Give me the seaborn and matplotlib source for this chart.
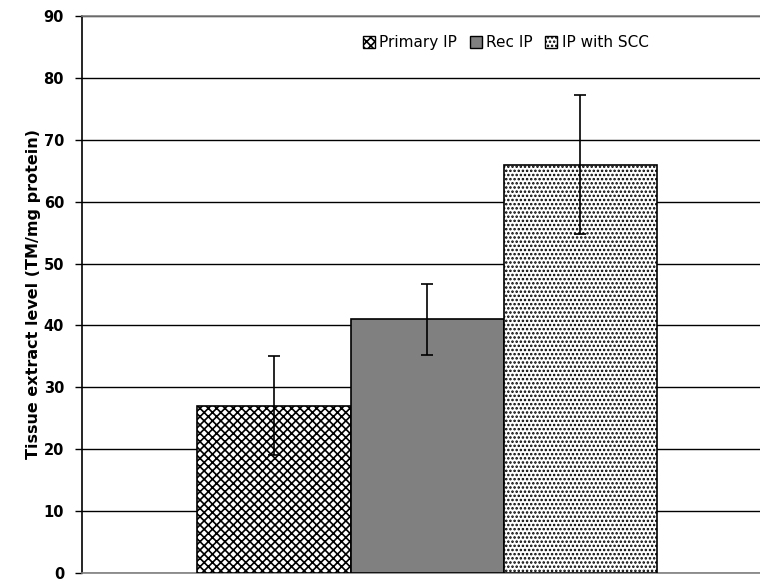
import pandas as pd
import seaborn as sns
import matplotlib.pyplot as plt
from matplotlib.patches import Patch

groups = ['Primary IP', 'Rec IP', 'IP with SCC']
levels = [27, 41, 66]
errors = [8, 5.7, 11.3]

df = pd.DataFrame({'group': groups, 'level': levels, 'x': [''] * 3})

sns.set_style('white')
plt.rcParams['font.family'] = ['DejaVu Sans']
plt.rcParams['hatch.linewidth'] = 1.2
plt.rcParams['text.color'] = 'black'
plt.rcParams['axes.labelcolor'] = 'black'
plt.rcParams['ytick.color'] = 'black'

fig = plt.figure(figsize=(7.6, 5.82), dpi=100)
ax = fig.add_axes([0.108, 0.0155, 0.892, 0.957])

colors = ['white', '#808080', 'white']
hatches = ['xxxx', '', '....']

sns.barplot(data=df, x='x', y='level', hue='group', hue_order=groups,
            palette=colors, width=0.8, errorbar=None, legend=False,
            edgecolor='black', linewidth=1.2, ax=ax, zorder=3)

centers = []
for patch, h in zip(ax.patches, hatches):
    patch.set_hatch(h)
    centers.append(patch.get_x() + patch.get_width() / 2)

ax.errorbar(centers, levels, yerr=errors, fmt='none', ecolor='black',
            elinewidth=1.2, capsize=4, capthick=1.2, zorder=4)

ax.set_xlim(-0.601, 0.580)
ax.set_ylim(0, 90)
ax.set_yticks(range(0, 91, 10))
ax.yaxis.grid(True, color='black', linewidth=1.0, zorder=0)
ax.set_axisbelow(True)
ax.set_xlabel('')
ax.set_xticks([])
ax.set_ylabel('Tissue extract level (TM/mg protein)', fontsize=11.5, fontweight='bold', labelpad=2)
for lbl in ax.get_yticklabels():
    lbl.set_fontweight('bold')
    lbl.set_fontsize(10.5)
ax.tick_params(axis='y', direction='out', length=5, width=1.0, color='black', pad=8, left=True)

for side in ['top', 'bottom']:
    ax.spines[side].set_color('#808080')
    ax.spines[side].set_linewidth(1.2)
ax.spines['right'].set_visible(False)
ax.spines['left'].set_color('black')
ax.spines['left'].set_linewidth(1.2)

handles = [Patch(facecolor=c, edgecolor='black', hatch=h, label=g)
           for c, h, g in zip(colors, hatches, groups)]
ax.legend(handles=handles, loc='upper center', bbox_to_anchor=(0.625, 0.99),
          ncol=3, frameon=False, fontsize=11, handlelength=0.8, handleheight=0.8,
          handletextpad=0.3, columnspacing=0.8)

fig.savefig('out.png', dpi=100)
